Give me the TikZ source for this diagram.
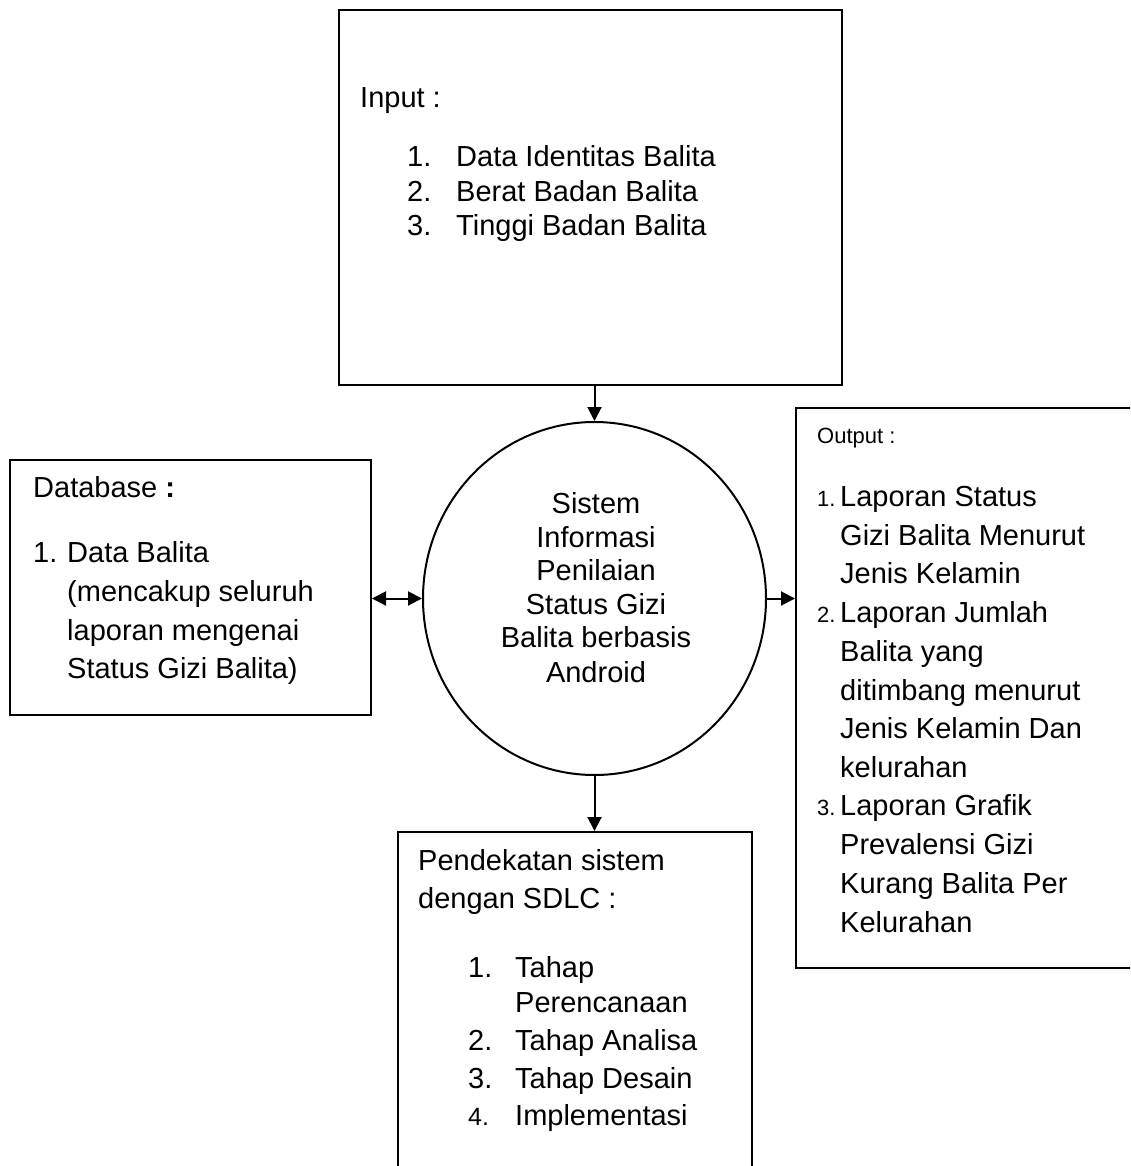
\documentclass[tikz,border=0pt]{standalone}
\usepackage{fontspec}
\setmainfont{Liberation Sans}
\usetikzlibrary{shapes.geometric,arrows.meta}
\newcommand{\bigtxt}{\fontsize{29}{33}\selectfont}
\newcommand{\smalltxt}{\fontsize{22}{26}\selectfont}
\begin{document}
\begin{tikzpicture}[x=1pt,y=-1pt,
  boxstyle/.style={draw, line width=2pt, rectangle, inner sep=0pt},
  txt/.style={anchor=base west, inner sep=0pt, font=\bigtxt},
  stxt/.style={anchor=base west, inner sep=0pt, font=\smalltxt},
  ctxt/.style={anchor=base, inner sep=0pt, font=\bigtxt},
  arr/.style={line width=2pt, -{Triangle[length=14pt,width=14pt]}},
  darr/.style={line width=2pt, {Triangle[length=14pt,width=14pt]}-{Triangle[length=14pt,width=14pt]}}]
\useasboundingbox (0,0) rectangle (1130,1166);
\clip (0,0) rectangle (1130,1166);
\fill[white] (0,0) rectangle (1130,1166);

% boxes
\node[boxstyle, minimum width=503pt, minimum height=375pt] (input) at (590.5,197.5) {};
\node[boxstyle, minimum width=361pt, minimum height=255pt] (db) at (190.5,587.5) {};
\node[boxstyle, minimum width=360pt, minimum height=560pt] (output) at (976,688) {};
\node[boxstyle, minimum width=354pt, minimum height=360pt] (sdlc) at (575,1012) {};
\node[draw, line width=2pt, ellipse, minimum width=343pt, minimum height=353pt, inner sep=0pt] (sys) at (594.5,598.5) {};

% input text
\node[txt] (inT) at (360,108) {Input :};
\node[txt] (in1n) at (407,167) {1.};
\node[txt] (in1) at (456,167) {Data Identitas Balita};
\node[txt] (in2n) at (407,202) {2.};
\node[txt] (in2) at (456,202) {Berat Badan Balita};
\node[txt] (in3n) at (407,236) {3.};
\node[txt] (in3) at (456,236) {Tinggi Badan Balita};

% system text
\node[ctxt] (s1) at (596,513) {Sistem};
\node[ctxt] (s2) at (596,547) {Informasi};
\node[ctxt] (s3) at (596,580) {Penilaian};
\node[ctxt] (s4) at (596,614) {Status Gizi};
\node[ctxt] (s5) at (596,647) {Balita berbasis};
\node[ctxt] (s6) at (596,682) {Android};

% database text
\node[txt] (dbT) at (33,497) {Database \textbf{:}};
\node[txt] (db1n) at (33,562) {1.};
\node[txt] (db1) at (67,562) {Data Balita};
\node[txt] (db2) at (67,601) {(mencakup seluruh};
\node[txt] (db3) at (67,640) {laporan mengenai};
\node[txt] (db4) at (67,678) {Status Gizi Balita)};

% output text
\node[stxt] (outT) at (817,443) {Output :};
\node[stxt] (o1n) at (817,506) {1.};
\node[txt] (o1a) at (840,506) {Laporan Status};
\node[txt] (o1b) at (840,545) {Gizi Balita Menurut};
\node[txt] (o1c) at (840,583) {Jenis Kelamin};
\node[stxt] (o2n) at (817,622) {2.};
\node[txt] (o2a) at (840,622) {Laporan Jumlah};
\node[txt] (o2b) at (840,661) {Balita yang};
\node[txt] (o2c) at (840,700) {ditimbang menurut};
\node[txt] (o2d) at (840,738) {Jenis Kelamin Dan};
\node[txt] (o2e) at (840,777) {kelurahan};
\node[stxt] (o3n) at (817,815) {3.};
\node[txt] (o3a) at (840,815) {Laporan Grafik};
\node[txt] (o3b) at (840,854) {Prevalensi Gizi};
\node[txt] (o3c) at (840,893) {Kurang Balita Per};
\node[txt] (o3d) at (840,932) {Kelurahan};

% sdlc text
\node[txt] (pT1) at (418,870) {Pendekatan sistem};
\node[txt] (pT2) at (418,908) {dengan SDLC :};
\node[txt] (p1n) at (468,977) {1.};
\node[txt] (p1a) at (515,977) {Tahap};
\node[txt] (p1b) at (515,1012) {Perencanaan};
\node[txt] (p2n) at (468,1050) {2.};
\node[txt] (p2) at (515,1050) {Tahap Analisa};
\node[txt] (p3n) at (468,1088) {3.};
\node[txt] (p3) at (515,1088) {Tahap Desain};
\node[anchor=base west, inner sep=0pt, font=\fontsize{25}{29}\selectfont] (p4n) at (468,1125) {4.};
\node[txt] (p4) at (515,1125) {Implementasi};

% connectors
\draw[arr] (sys.north |- input.south) -- (sys.north);
\draw[arr] (sys.south) -- (sys.south |- sdlc.north);
\draw[arr] (sys.east) -- (sys.east -| output.west);
\draw[darr] (db.east |- sys.west) -- (sys.west);
\end{tikzpicture}
\end{document}
